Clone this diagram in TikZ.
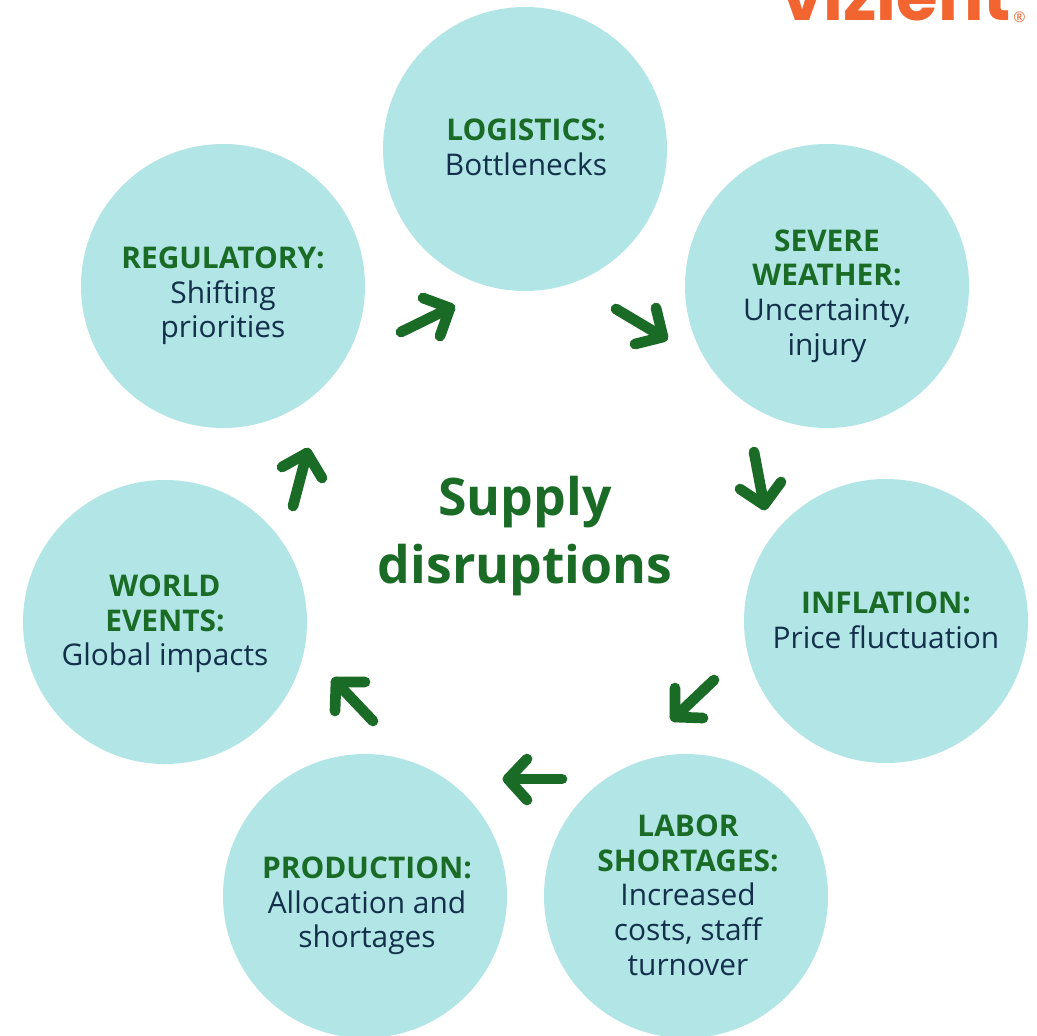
\documentclass[tikz,border=0pt]{standalone}
\usepackage{fontspec}
\setmainfont{Open Sans}
\newfontfamily\logofont{Poppins}
\usetikzlibrary{arrows.meta}
\definecolor{disc}{HTML}{B2E5E6}
\definecolor{leaf}{HTML}{1A6B26}
\definecolor{ink}{HTML}{12304A}
\definecolor{brand}{HTML}{F26430}
\newcommand{\hd}[1]{{\bfseries\color{leaf}#1}}
\tikzset{
  x=0.75pt,y=-0.75pt,
  disk/.style={circle,fill=disc,minimum size=213pt,inner sep=0pt},
  caption/.style={align=center,text=ink,inner sep=0pt,font=\fontsize{22.4}{26}\selectfont},
  flow/.style={draw=leaf,line width=8pt,line cap=round,line join=round},
  title/.style={align=center,text=leaf,font=\fontsize{38.8}{50.5}\selectfont\bfseries,inner sep=0pt},
}
\begin{document}
\begin{tikzpicture}
\clip (0,0) rectangle (1037,1035);
\useasboundingbox (0,0) rectangle (1037,1035);
\fill[white] (0,0) rectangle (1037,1035);
\node[disk] (logistics) at (525,149) {};
\node[disk] (weather) at (827,286) {};
\node[disk] (inflation) at (886,621) {};
\node[disk] (labor) at (686,896) {};
\node[disk] (production) at (365,896) {};
\node[disk] (world) at (165,622) {};
\node[disk] (regulatory) at (223,286) {};
\node[caption] (logisticstext) at (526,147) {\hd{LOGISTICS:}\\Bottlenecks};
\node[caption] (weathertext) at (827,296) {\hd{SEVERE}\\\hd{WEATHER:}\\Uncertainty,\\injury};
\node[caption] (inflationtext) at (886,620) {\hd{INFLATION:}\\Price fluctuation};
\node[caption] (labortext) at (688,895) {\hd{LABOR}\\\hd{SHORTAGES:}\\Increased\\costs, staff\\turnover};
\node[caption] (productiontext) at (367,906) {\hd{PRODUCTION:}\\Allocation and\\shortages};
\node[caption] (worldtext) at (165,624) {\hd{WORLD}\\\hd{EVENTS:}\\Global impacts};
\node[caption] (regulatorytext) at (223,296) {\hd{REGULATORY:}\\Shifting\\priorities};
\node[title] (center) at (525,536) {Supply\\disruptions};
\node[anchor=base east,inner sep=0pt,text=brand,font=\logofont\fontsize{50.5}{54}\selectfont\bfseries] (logo) at (1011,20) {vizient};
\node[anchor=base west,inner sep=0pt,text=brand,font=\fontsize{11}{12}\selectfont] (reg) at (1013,22) {®};
% arrows
\coordinate (a1s) at (401,332); \coordinate (a1t) at (450,308); \coordinate (a1b) at (423,298); \coordinate (a1c) at (440,336);
\coordinate (a2s) at (616,309); \coordinate (a2t) at (663,337); \coordinate (a2b) at (656,308); \coordinate (a2c) at (635,344);
\coordinate (a3s) at (754,452); \coordinate (a3t) at (764,505); \coordinate (a3b) at (740,489); \coordinate (a3c) at (781,482);
\coordinate (a4s) at (714,680); \coordinate (a4t) at (675,717); \coordinate (a4b) at (675,688); \coordinate (a4c) at (703,718);
\coordinate (a5s) at (562,779); \coordinate (a5t) at (508,779); \coordinate (a5b) at (527,759); \coordinate (a5c) at (527,800);
\coordinate (a6s) at (373,721); \coordinate (a6t) at (336,682); \coordinate (a6b) at (335,711); \coordinate (a6c) at (365,682);
\coordinate (a7s) at (293,506); \coordinate (a7t) at (307,453); \coordinate (a7b) at (282,467); \coordinate (a7c) at (322,478);
\foreach \i in {1,...,7}{
  \draw[flow] (a\i s) -- (a\i t);
  \draw[flow] (a\i b) -- (a\i t) -- (a\i c);
}
\end{tikzpicture}
\end{document}
